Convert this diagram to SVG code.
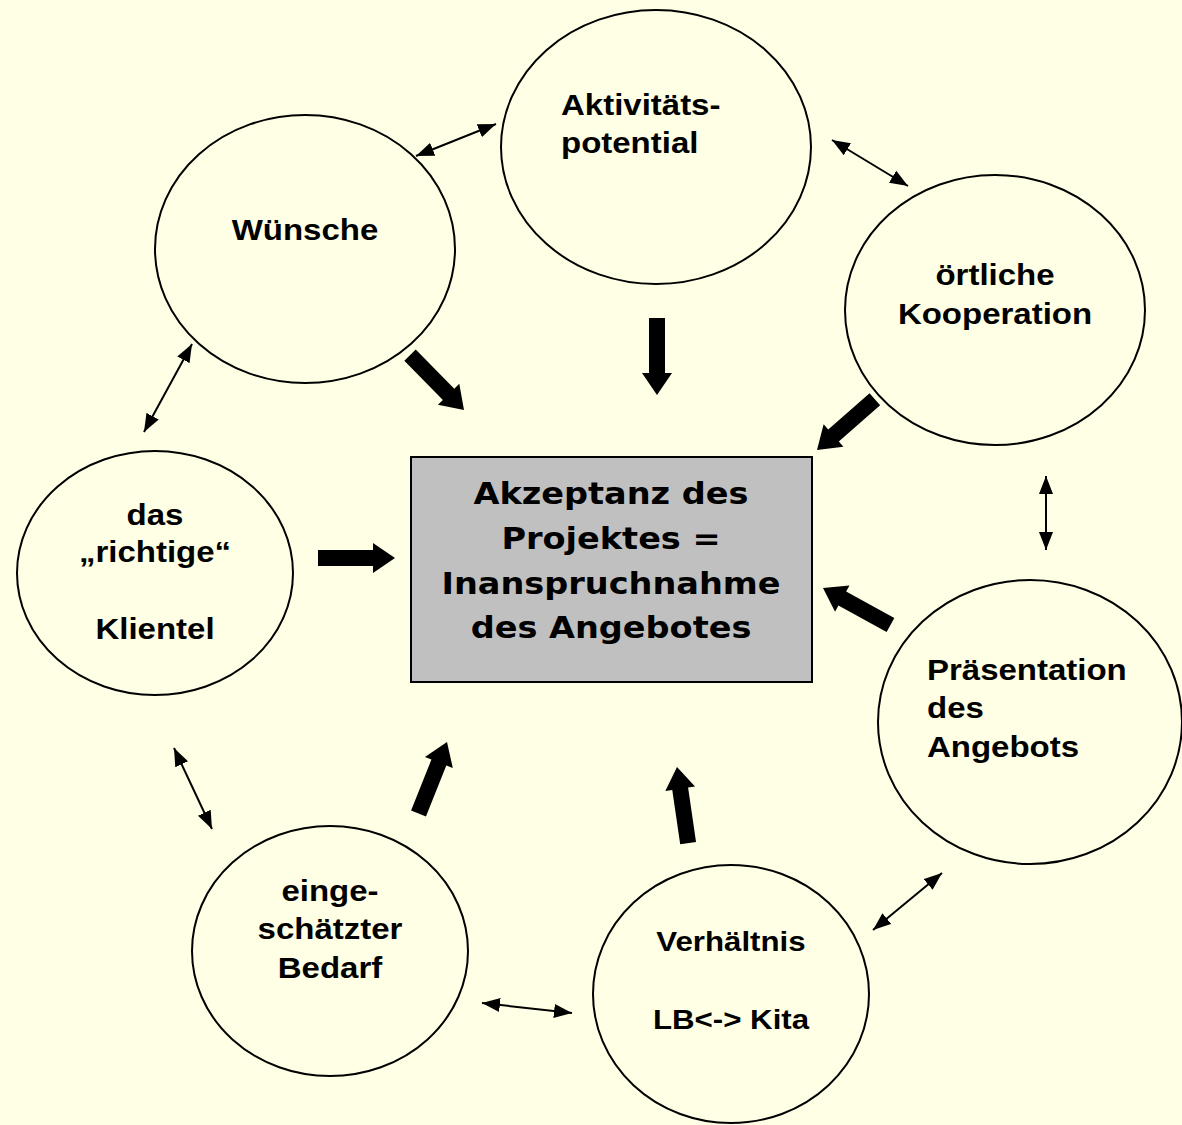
<svg xmlns="http://www.w3.org/2000/svg" width="1182" height="1125" viewBox="0 0 1182 1125">
<style>
.bg{fill:#FFFFE5}
.node{fill:#FFFFE5;stroke:#000;stroke-width:2}
.t{font-family:"Liberation Sans",Arial,sans-serif;font-weight:bold;font-size:30px;fill:#000}
.t2{font-family:"Liberation Sans",Arial,sans-serif;font-weight:bold;font-size:28.4px;fill:#000}
.c{font-family:"DejaVu Sans",Verdana,sans-serif;font-weight:bold;font-size:30.5px;fill:#000}
.dbl{stroke:#000;stroke-width:2;fill:none;marker-start:url(#ah);marker-end:url(#ah)}
</style>
<defs>
<marker id="ah" viewBox="0 0 18 14" refX="18" refY="7" markerWidth="18" markerHeight="14" markerUnits="userSpaceOnUse" orient="auto-start-reverse">
<path d="M0,0 L18,7 L0,14 Z" fill="#000"/>
</marker>
<path id="blk" d="M0,0 L-22,-15 L-22,-8 L-77,-8 L-77,8 L-22,8 L-22,15 Z" fill="#000"/>
</defs>
<rect class="bg" x="0" y="0" width="1182" height="1125"/>

<g id="center">
<rect x="411" y="457" width="401" height="225" fill="#C0C0C0" stroke="#000" stroke-width="2"/>
<text class="c" text-anchor="middle" transform="translate(611,504) scale(1.1,1)">Akzeptanz des</text>
<text class="c" text-anchor="middle" transform="translate(611,549) scale(1.1,1)">Projektes =</text>
<text class="c" text-anchor="middle" transform="translate(611,594) scale(1.1,1)">Inanspruchnahme</text>
<text class="c" text-anchor="middle" transform="translate(611,638) scale(1.1,1)">des Angebotes</text>
</g>

<g id="aktivitaet">
<ellipse class="node" cx="656" cy="147" rx="155" ry="137"/>
<text class="t" transform="translate(561,115) scale(1.1,1)">Aktivitäts-</text>
<text class="t" transform="translate(561,153) scale(1.1,1)">potential</text>
</g>

<g id="wuensche">
<ellipse class="node" cx="305" cy="249" rx="150" ry="134"/>
<text class="t" text-anchor="middle" transform="translate(305,240) scale(1.1,1)">Wünsche</text>
</g>

<g id="kooperation">
<ellipse class="node" cx="995" cy="310" rx="150" ry="135"/>
<text class="t" text-anchor="middle" transform="translate(995,285) scale(1.1,1)">örtliche</text>
<text class="t" text-anchor="middle" transform="translate(995,324) scale(1.1,1)">Kooperation</text>
</g>

<g id="klientel">
<ellipse class="node" cx="155" cy="573" rx="138" ry="122"/>
<text class="t" text-anchor="middle" transform="translate(155,525) scale(1.1,1)">das</text>
<text class="t" text-anchor="middle" transform="translate(155,562) scale(1.1,1)">„richtige“</text>
<text class="t" text-anchor="middle" transform="translate(155,639) scale(1.1,1)">Klientel</text>
</g>

<g id="praesentation">
<ellipse class="node" cx="1030" cy="722" rx="152" ry="142"/>
<text class="t" transform="translate(927,680) scale(1.1,1)">Präsentation</text>
<text class="t" transform="translate(927,718) scale(1.1,1)">des</text>
<text class="t" transform="translate(927,757) scale(1.1,1)">Angebots</text>
</g>

<g id="bedarf">
<ellipse class="node" cx="330" cy="951" rx="138" ry="125"/>
<text class="t" text-anchor="middle" transform="translate(330,901) scale(1.1,1)">einge-</text>
<text class="t" text-anchor="middle" transform="translate(330,939) scale(1.1,1)">schätzter</text>
<text class="t" text-anchor="middle" transform="translate(330,978) scale(1.1,1)">Bedarf</text>
</g>

<g id="verhaeltnis">
<ellipse class="node" cx="731" cy="994" rx="138" ry="129"/>
<text class="t2" text-anchor="middle" transform="translate(731,951) scale(1.1,1)">Verhältnis</text>
<text class="t2" text-anchor="middle" transform="translate(731,1029) scale(1.1,1)">LB&lt;-&gt; Kita</text>
</g>

<g id="connectors">
<line class="dbl" x1="416" y1="156" x2="496" y2="124"/>
<line class="dbl" x1="832" y1="140" x2="908" y2="186"/>
<line class="dbl" x1="192" y1="344" x2="144" y2="432"/>
<line class="dbl" x1="1046" y1="476" x2="1046" y2="550"/>
<line class="dbl" x1="174" y1="748" x2="212" y2="829"/>
<line class="dbl" x1="482" y1="1003" x2="572" y2="1013"/>
<line class="dbl" x1="873" y1="930" x2="942" y2="873"/>
<use href="#blk" transform="translate(464,410) rotate(45.5)"/>
<use href="#blk" transform="translate(657,395) rotate(90)"/>
<use href="#blk" transform="translate(817,450) rotate(138.7)"/>
<use href="#blk" transform="translate(395,558)"/>
<use href="#blk" transform="translate(823,588) rotate(208.8)"/>
<use href="#blk" transform="translate(447,742) rotate(-68.3)"/>
<use href="#blk" transform="translate(677,767) rotate(-98.3)"/>
</g>
</svg>
